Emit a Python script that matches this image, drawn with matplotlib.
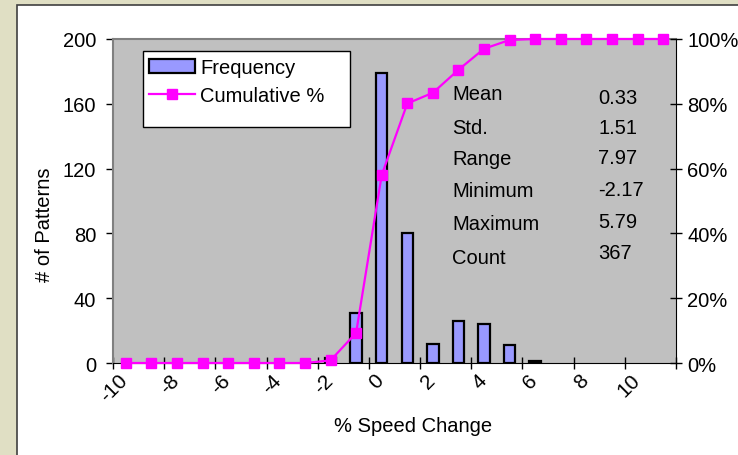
import matplotlib
matplotlib.use("Agg")
from matplotlib import pyplot as plt
from matplotlib.patches import Rectangle
from matplotlib.lines import Line2D
from matplotlib.ticker import FixedLocator, PercentFormatter
from matplotlib.transforms import ScaledTranslation

plt.rcParams['font.family'] = ['Liberation Sans', 'DejaVu Sans']

speed_bins = [-10, -9, -8, -7, -6, -5, -4, -3, -2, -1, 0, 1, 2, 3, 4, 5, 6, 7, 8, 9, 10, 11]
frequency = [0, 0, 0, 0, 0, 0, 0, 0, 3, 31, 179, 80, 12, 26, 24, 11, 1, 0, 0, 0, 0, 0]
cumulative_pct = [0, 0, 0, 0, 0, 0, 0, 0, 0.8, 9.3, 58.0, 80.1, 83.4, 90.5, 97.0, 99.7,
                  100, 100, 100, 100, 100, 100]
tick_labels = [-10, -8, -6, -4, -2, 0, 2, 4, 6, 8, 10]
stat_names = ['Mean', 'Std.', 'Range', 'Minimum', 'Maximum', 'Count']
stat_values = ['0.33', '1.51', '7.97', '-2.17', '5.79', '367']

W, H = 738, 456
fs = 14.5

fig = plt.figure(figsize=(W / 100, H / 100), dpi=100)
fig.patch.set_facecolor('#e0dfc4')
# white chart area with dark border
fig.patches.append(Rectangle((17 / W, -0.1), 1.2, 1 - 6 / H + 0.1, transform=fig.transFigure,
                             facecolor='white', edgecolor='#404040', lw=1.2, zorder=-5))

ax = fig.add_axes([113 / W, 1 - 364 / H, 563 / W, 324 / H])
ax.set_facecolor('#c0c0c0')
nz = [(b, f) for b, f in zip(speed_bins, frequency) if f > 0]
ax.bar([b for b, f in nz], [f for b, f in nz], width=0.45, color='#9999ff',
       edgecolor='black', lw=1.6, zorder=2)
ax.set_xlim(-10.5, 11.5)
ax.set_ylim(0, 200)
ax.set_yticks(range(0, 201, 40))
ax.tick_params(axis='y', direction='out', length=5, width=1, pad=7, labelsize=fs)

# x ticks at category boundaries, labels on categories
ax.xaxis.set_major_locator(FixedLocator([b - 0.5 for b in speed_bins[::2]] + [11.5]))
ax.xaxis.set_major_formatter(plt.NullFormatter())
ax.tick_params(axis='x', which='major', direction='inout', length=9, width=1)
ax.set_xticks(tick_labels, minor=True)
ax.set_xticklabels([str(t) for t in tick_labels], minor=True, rotation=45, ha='right',
                   fontsize=fs + 0.5)
ax.tick_params(axis='x', which='minor', length=0, pad=5)
shift = ScaledTranslation(6 / 100, 0, fig.dpi_scale_trans)
for lab in ax.xaxis.get_minorticklabels():
    lab.set_transform(lab.get_transform() + shift)

for s in ['left', 'top']:
    ax.spines[s].set_color('#808080')
    ax.spines[s].set_linewidth(1.5)
ax.spines['bottom'].set_color('black')
ax.spines['right'].set_visible(False)

ax2 = ax.twinx()
ax2.plot(speed_bins, cumulative_pct, color='#ff00ff', lw=1.6, marker='s', markersize=6.5,
         clip_on=False, zorder=5)
ax2.set_ylim(0, 100)
ax2.set_yticks(range(0, 101, 20))
ax2.yaxis.set_major_formatter(PercentFormatter(decimals=0))
ax2.tick_params(axis='y', direction='inout', length=8, width=1, pad=4, labelsize=fs)
ax2.spines['right'].set_color('black')
for s in ['left', 'top', 'bottom']:
    ax2.spines[s].set_visible(False)

# legend
fig.patches.append(Rectangle((143 / W, 1 - 128 / H), 207 / W, 76 / H, transform=fig.transFigure,
                             facecolor='white', edgecolor='black', lw=1, zorder=6))
handles = [Rectangle((0, 0), 1, 1, facecolor='#9999ff', edgecolor='black', lw=1.6),
           Line2D([], [], color='#ff00ff', lw=1.6, marker='s', markersize=6.5)]
leg = fig.legend(handles, ['Frequency', 'Cumulative %'], loc='upper left',
                 bbox_to_anchor=(145 / W, 1 - 55 / H), frameon=False, fontsize=fs,
                 handlelength=2.3, handletextpad=0.25, labelspacing=0.45, borderpad=0.2,
                 borderaxespad=0)
leg.set_zorder(7)

# statistics
label_y = [95, 128, 160, 192, 225, 258]
value_y = [99, 129, 159, 191, 222, 254]
for name, ly in zip(stat_names, label_y):
    fig.text(452 / W, 1 - ly / H, name, fontsize=fs, va='center', ha='left', zorder=8)
for val, vy in zip(stat_values, value_y):
    fig.text(598 / W, 1 - vy / H, val, fontsize=fs, va='center', ha='left', zorder=8)

fig.text(413 / W, 1 - 427 / H, '% Speed Change', fontsize=fs, ha='center', va='center')
fig.text(45 / W, 1 - 225 / H, '# of Patterns', fontsize=fs, ha='center', va='center',
         rotation=90)

fig.savefig('out.png', dpi=100, facecolor=fig.get_facecolor())
